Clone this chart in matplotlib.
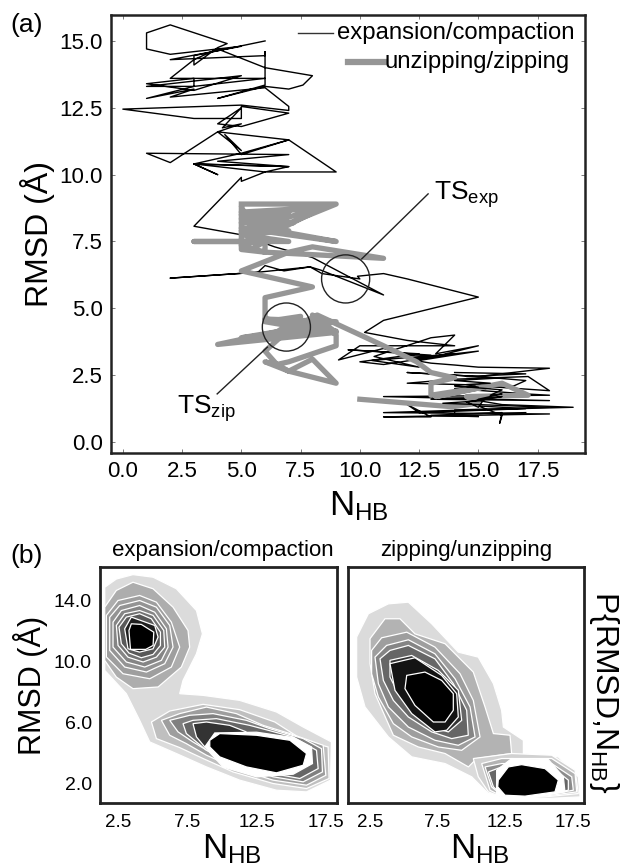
import matplotlib
matplotlib.use('Agg')
import matplotlib.pyplot as plt
from matplotlib.patches import Ellipse, Polygon

plt.rcParams['font.family'] = ['Liberation Sans', 'DejaVu Sans']
plt.rcParams['mathtext.default'] = 'regular'

# panel (a) trajectories, (N_HB, RMSD)
expansion = [
    (6, 15.0), (3, 14.45), (3, 14.1), (4, 14.75), (4.4, 14.9), (2, 15.6), (1, 15.3), (1, 14.7), (2, 14.5),
    (5, 14.8), (2, 14.3), (6, 14.45), (6, 14.6), (6, 13.35), (4, 12.85), (6, 13.3), (7, 13.2), (7.6, 13.35),
    (8, 13.7), (6, 14.0), (4, 14.7), (3, 14.3), (2, 13.6), (6, 13.6), (3, 13.3), (1, 13.3), (5, 13.7), (3, 13.15),
    (1, 13.4), (3, 13.6), (3, 13.3), (1, 12.85), (3, 13.2), (2, 12.9), (6, 13.25), (7, 12.55), (7, 12.4), (5, 12.6),
    (0, 12.45), (3, 12.1), (5, 12.1), (5, 12.55), (7, 12.3), (5, 11.8), (4, 11.9), (5, 12.5), (4.2, 11.75), (5, 11.9),
    (4, 11.6), (7, 11.3), (9, 10.1), (6, 10.1), (7, 10.3), (3, 10.4), (5, 10.8), (7, 11.3), (5, 10.75), (4.3, 11.5),
    (5, 10.9), (4, 11.6), (2, 10.45), (1, 10.8), (7, 10.75), (4, 10.5), (7, 10.3), (3, 10.4), (4, 10.0), (3, 10.4),
    (6, 10.1), (5, 9.75), (5, 9.9), (3, 8.07), (5, 7.75), (6.4, 7.3), (8, 6.9), (11, 5.5), (8.35, 6.43), (7.9, 6.55),
    (5.7, 6.35), (2, 6.13), (5.7, 6.35), (6, 6.6), (6.8, 6.4), (7.9, 6.55), (8.4, 6.3), (10, 6.1), (9.9, 6.2),
    (11, 6.3), (12, 6.1), (15, 5.42), (11, 4.55), (10.2, 4.1), (12, 3.8), (14, 3.6), (10, 3.6), (9.1, 3.07), (11, 3.5),
    (12, 3.25), (13, 3.25), (9.5, 3.45), (12.5, 3.3), (10, 3.0), (11, 2.9), (14, 3.3), (10.5, 3.05), (12.5, 2.8),
    (10.6, 3.2), (13, 3.9), (14, 4.0), (13.2, 3.3), (15, 3.6), (12.5, 3.05), (15, 3.4), (12, 3.1), (13, 2.95),
    (14, 2.88), (15, 2.8), (18, 2.76), (15, 2.45), (12, 2.6), (15, 2.45), (17, 2.3), (16.5, 2.1), (12, 2.2), (14, 2.35),
    (17.1, 2.45), (18, 1.92), (15, 2.1), (14, 2.0), (17, 1.8), (18, 1.75), (11, 1.7), (18, 1.55), (13, 1.6),
    (16, 1.7), (15, 1.55), (16, 1.4), (19, 1.3), (14.5, 1.2), (11, 1.1), (18, 1.05), (11, 0.94), (13, 0.94), (12, 1.4),
    (12.5, 1.1), (17, 1.25), (15, 1.35), (16, 1.0), (15.9, 0.7), (16, 1.1), (13, 1.0), (15, 0.95),
]
# part of the expansion run that lies on top of the grey line
expansion_front = [
    (14, 2.6), (17, 2.55), (14.5, 2.45), (16, 2.4), (14, 2.3), (15.5, 2.2), (14.5, 2.15), (15, 2.05), (14, 2.1),
    (16, 1.95), (15.5, 1.75), (16, 1.8), (15, 1.6), (16, 1.7), (14.5, 1.5), (15, 1.3), (15.2, 1.55), (13.5, 1.45),
    (18, 1.3), (14, 1.2), (14, 1.05), (17, 1.1),
]
unzipping = [
    (5, 8.9), (9, 8.9), (6.5, 8.0), (5, 8.5), (8, 8.75), (5, 8.6), (7, 8.45), (5, 8.35), (7.2, 8.2), (5, 8.2),
    (7, 8.6), (5, 7.9), (8.5, 8.8), (6.5, 7.9), (9, 7.5), (5, 8.0), (7, 7.9), (5, 7.75), (7, 7.5), (3, 7.5),
    (5, 7.5), (6, 7.6), (5, 7.35), (6, 7.1), (5, 7.2), (5, 8.8), (5.4, 8.1), (5.6, 7.3), (6, 7.5), (6, 7.1),
    (11, 6.87), (8, 7.3), (7, 7.1), (5, 6.4), (8, 5.8), (6, 5.4), (6, 4.6), (9, 4.5),
    (5, 3.9), (8, 4.2), (6, 4.5), (7.5, 4.7), (6.3, 4.0), (9, 4.15), (6, 4.6), (8, 4.4), (4, 3.65), (9, 4.1),
    (8, 4.75), (9, 4.0), (9, 3.6), (7, 3.0), (6.5, 2.9), (6, 3.0), (7, 2.65), (8, 3.1), (9, 2.2), (7, 2.65),
    (6.5, 2.9), (6, 3.4), (7, 4.2), (8.2, 4.75), (11, 3.6), (12.4, 3.0), (13, 2.6), (14, 2.4), (13, 2.2), (13, 1.75),
    (15.5, 2.1), (13.2, 1.7), (16, 2.2), (17.1, 1.75), (14.5, 1.7), (15, 1.45), (13.9, 1.32), (10, 1.6),
]

# panel (b) contour outlines, outermost first
left_shapes = [
    [(1.54, 14.87), (2.38, 15.41), (3.58, 15.7), (5.03, 15.53), (6.71, 14.77), (8.16, 13.34), (8.59, 11.81),
     (8.16, 10.5), (7.19, 8.75), (6.95, 7.88), (8.64, 7.77), (11.28, 7.44), (13.93, 6.68), (15.86, 5.69),
     (17.9, 4.71), (17.83, 2.2), (16.1, 1.43), (13.93, 1.54), (11.28, 2.2), (8.88, 3.07), (6.71, 3.95),
     (4.79, 4.71), (4.06, 6.13), (3.1, 7.88), (1.54, 9.41)],
    [(1.54, 13.56), (2.38, 14.66), (3.58, 15.2), (5.03, 14.77), (6.47, 13.56), (7.55, 12.03), (7.67, 10.94),
     (7.07, 9.63), (5.39, 8.32), (3.58, 8.21), (2.38, 8.97), (1.54, 10.07)],
    [(1.66, 13.02), (2.5, 14.0), (4.06, 14.33), (5.27, 13.89), (6.35, 12.58), (6.95, 10.94), (6.35, 9.63),
     (4.79, 8.86), (2.86, 9.19), (1.66, 10.29)],
    [(1.9, 12.9), (2.62, 13.67), (4.06, 14.0), (5.27, 13.56), (6.23, 12.36), (6.47, 10.94), (5.87, 9.85),
     (4.55, 9.3), (2.98, 9.63), (1.9, 10.72)],
    [(2.14, 12.58), (2.74, 13.34), (4.06, 13.67), (5.15, 13.23), (5.99, 12.14), (6.11, 10.94), (5.63, 10.07),
     (4.43, 9.63), (3.1, 9.96), (2.14, 10.94)],
    [(2.38, 12.36), (2.98, 13.13), (4.06, 13.34), (5.03, 13.02), (5.8, 12.03), (5.87, 10.94), (5.27, 10.28),
     (4.31, 9.96), (3.22, 10.28), (2.5, 11.05)],
    [(2.57, 12.25), (3.1, 12.91), (4.06, 13.13), (4.9, 12.8), (5.56, 11.92), (5.56, 11.05), (5.03, 10.46),
     (4.18, 10.24), (3.29, 10.55), (2.74, 11.16)],
    [(2.98, 12.14), (3.46, 12.91), (5.15, 12.36), (5.39, 11.6), (5.03, 10.83), (4.06, 10.61), (3.22, 10.83)],
    [(3.29, 12.03), (3.46, 12.47), (4.18, 12.43), (5.08, 11.92), (5.03, 11.05), (4.5, 10.79), (3.4, 10.79)],
    [(4.91, 6.02), (6.23, 6.74), (8.64, 7.18), (11.28, 6.83), (13.81, 6.02), (15.86, 4.82), (17.66, 4.38),
     (17.73, 2.31), (16.1, 1.65), (13.69, 1.98), (10.8, 2.74), (8.64, 3.62), (6.95, 4.34), (5.27, 4.93)],
    [(5.63, 6.13), (6.95, 6.57), (8.88, 7.0), (11.04, 6.57), (12.97, 5.8), (14.9, 5.26), (17.3, 4.49),
     (17.49, 2.52), (16.1, 1.87), (13.69, 2.2), (11.04, 2.96), (8.88, 3.84), (7.43, 4.6), (6.23, 5.15)],
    [(6.23, 6.13), (7.67, 6.46), (9.36, 6.57), (11.76, 6.13), (13.45, 5.58), (15.86, 4.93), (17.18, 4.27),
     (17.25, 2.74), (15.86, 2.09), (13.69, 2.42), (11.28, 3.18), (9.12, 4.05), (7.91, 4.71), (6.83, 5.37)],
    [(7.19, 5.91), (7.91, 6.13), (9.6, 6.24), (12.0, 5.8), (15.12, 5.04), (16.82, 4.16), (16.94, 2.96),
     (15.62, 2.31), (13.69, 2.63), (11.28, 3.29), (8.88, 4.16), (8.16, 4.71), (7.43, 5.26)],
    [(7.91, 5.91), (8.88, 6.02), (10.56, 5.8), (11.76, 5.37), (9.36, 4.38), (8.76, 4.38), (8.16, 5.04)],
    [(8.76, 4.38), (9.48, 5.3), (12.49, 5.35), (15.14, 5.0), (16.46, 4.38), (16.53, 3.29), (15.14, 2.59),
     (12.49, 2.42), (10.08, 3.07)],
    [(9.12, 4.82), (9.84, 5.26), (12.49, 5.15), (14.9, 4.82), (16.1, 3.95), (15.86, 3.18), (13.93, 2.68),
     (11.76, 3.07), (9.84, 3.73), (9.12, 4.38)],
]
left_grays = ['0.86', '0.68', '0.62', '0.58', '0.52', '0.45', '0.35', '0.12', '0',
              '0.75', '0.62', '0.5', '0.4', '0.2', '1', '0']

right_shapes = [
    [(1.51, 11.6), (2.38, 13.13), (3.86, 13.78), (5.34, 13.89), (7.07, 12.47), (9.04, 10.61), (10.52, 10.28),
     (11.64, 8.54), (12.25, 6.79), (12.38, 5.69), (13.86, 4.82), (13.86, 3.95), (16.45, 3.73), (17.93, 2.42),
     (18.06, 1.1), (15.46, 0.99), (11.27, 1.32), (10.03, 2.42), (8.06, 3.29), (5.59, 3.73), (3.86, 5.04),
     (2.13, 7.01), (1.51, 8.97)],
    [(2.5, 11.49), (3.61, 12.8), (4.72, 12.8), (5.83, 11.81), (8.06, 11.16), (10.15, 9.3), (11.02, 7.01),
     (11.64, 5.26), (12.87, 5.15), (12.99, 3.95), (10.4, 3.62), (9.79, 3.07), (8.06, 3.95), (6.08, 4.38),
     (4.23, 5.15), (2.87, 7.88), (2.5, 9.85)],
    [(2.62, 10.72), (3.36, 11.55), (5.22, 11.92), (7.31, 10.94), (9.17, 9.19), (10.15, 7.44), (10.65, 5.04),
     (9.29, 4.16), (7.56, 4.38), (5.59, 5.04), (4.23, 5.91), (3.12, 7.66), (2.62, 9.19)],
    [(2.87, 10.28), (3.73, 11.05), (5.34, 11.42), (7.31, 10.5), (8.8, 8.86), (9.91, 7.01), (10.28, 5.04),
     (9.04, 4.49), (7.31, 4.82), (5.34, 5.69), (3.86, 7.01), (3.12, 8.54)],
    [(3.24, 10.17), (3.98, 10.72), (5.34, 11.05), (7.31, 10.17), (8.67, 8.54), (9.66, 6.79), (9.78, 5.15),
     (8.55, 4.93), (7.07, 5.37), (5.34, 6.35), (4.23, 7.44), (3.49, 8.75)],
    [(3.98, 10.07), (5.59, 10.39), (7.56, 9.41), (9.04, 8.1), (9.29, 6.13), (8.3, 5.37), (7.07, 5.69),
     (5.59, 6.79), (4.6, 7.88), (3.98, 8.97)],
    [(3.98, 9.85), (5.83, 10.24), (7.81, 9.08), (8.92, 7.88), (9.04, 6.35), (8.18, 5.48), (7.31, 5.37),
     (5.59, 6.57), (4.35, 8.1)],
    [(5.22, 9.08), (6.57, 9.3), (7.81, 8.75), (8.67, 7.88), (8.67, 6.79), (8.06, 6.02), (7.19, 6.02),
     (5.83, 7.11), (5.09, 8.21)],
    [(10.15, 3.62), (12.99, 3.95), (15.96, 3.84), (17.69, 2.85), (17.93, 1.32), (15.46, 1.1), (12.25, 1.1),
     (11.27, 1.43), (10.52, 2.42)],
    [(10.77, 3.29), (12.25, 3.62), (15.96, 3.62), (17.69, 2.63), (17.81, 1.43), (15.46, 1.15), (12.25, 1.15),
     (11.39, 1.54)],
    [(11.02, 3.07), (12.25, 3.29), (15.96, 3.29), (17.44, 2.42), (17.56, 1.54), (15.46, 1.21), (12.25, 1.21),
     (11.51, 1.76)],
    [(11.27, 2.74), (12.25, 3.07), (15.96, 3.07), (17.19, 2.2), (17.19, 1.54), (15.46, 1.26), (12.25, 1.26),
     (11.64, 1.76)],
    [(11.88, 2.85), (12.99, 3.62), (15.71, 3.55), (16.82, 2.42), (16.94, 1.43), (13.98, 0.99), (11.88, 1.21)],
    [(12, 2.2), (12.75, 3.07), (13.73, 3.22), (15.46, 2.96), (16.45, 2.2), (16.2, 1.43), (13.98, 1.15),
     (12.5, 1.21), (11.96, 1.76)],
]
right_grays = ['0.86', '0.7', '0.62', '0.52', '0.4', '0.2', '0.08', '0',
               '0.82', '0.7', '0.55', '0.4', '1', '0']

a_xticks = [0.0, 2.5, 5.0, 7.5, 10.0, 12.5, 15.0, 17.5]
a_yticks = [0.0, 2.5, 5.0, 7.5, 10.0, 12.5, 15.0]
b_xticks = [2.5, 7.5, 12.5, 17.5]
b_yticks = [2.0, 6.0, 10.0, 14.0]


def make_axes(fig, left, top, right, bottom):
    return fig.add_axes([left / 626, 1 - bottom / 868, (right - left) / 626, (bottom - top) / 868])


def draw_contours(ax, shapes, grays):
    for pts, g in zip(shapes, grays):
        ax.add_patch(Polygon(pts, closed=True, facecolor=g, edgecolor='white', linewidth=0.9, zorder=2))


def main():
    fig = plt.figure(figsize=(6.26, 8.68), dpi=100)

    ax = make_axes(fig, 111, 15, 585, 453)
    ax.plot(*zip(*expansion), color='black', lw=1.0, zorder=2)
    ax.plot(*zip(*unzipping), color='#969696', lw=3.8, solid_joinstyle='round', zorder=3)
    ax.plot(*zip(*expansion_front), color='black', lw=1.0, zorder=3.5)
    ax.set_xlim(-0.5, 19.5)
    ax.set_ylim(-0.41, 15.97)
    ax.set_xticks(a_xticks)
    ax.set_yticks(a_yticks)
    ax.set_xticklabels(['%.1f' % v for v in a_xticks])
    ax.set_yticklabels(['%.1f' % v for v in a_yticks])
    ax.tick_params(direction='in', length=3, width=0.6, color='0.4', top=True, right=True, labelsize=16, pad=6)
    ax.set_xlabel(r'N$_{HB}$', fontsize=25, labelpad=5, x=0.523)
    ax.set_ylabel('RMSD (Å)', fontsize=23, labelpad=3)
    for s in ax.spines.values():
        s.set_linewidth(1.8)
        s.set_color('#222222')

    # legend, hand placed like the original
    ax.plot([0.395, 0.468], [0.96, 0.96], transform=ax.transAxes, color='#333333', lw=1.0)
    ax.text(0.477, 0.958, 'expansion/compaction', transform=ax.transAxes, fontsize=17.2, va='center')
    ax.plot([0.5, 0.578], [0.893, 0.893], transform=ax.transAxes, color='#969696', lw=4.5)
    ax.text(0.578, 0.893, 'unzipping/zipping', transform=ax.transAxes, fontsize=17.2, va='center')

    ax.add_patch(Ellipse((9.4, 6.1), 2.03, 1.8, fill=False, ec='#222222', lw=1.0, zorder=4))
    ax.add_patch(Ellipse((6.9, 4.3), 2.03, 1.8, fill=False, ec='#222222', lw=1.0, zorder=4))
    ax.plot([10.08, 12.88], [6.85, 9.28], color='#222222', lw=1.0, zorder=4)
    ax.plot([6.1, 3.98], [3.55, 1.8], color='#222222', lw=1.0, zorder=4)
    ax.text(13.14, 9.05, r'TS$_{exp}$', fontsize=19, va='baseline')
    ax.text(2.29, 1.05, r'TS$_{zip}$', fontsize=19, va='baseline')

    ax1 = make_axes(fig, 100, 567, 337, 803)
    draw_contours(ax1, left_shapes, left_grays)
    ax1.set_xlim(1.2, 18.3)
    ax1.set_ylim(0.7, 16.2)
    ax1.set_yticks(b_yticks)
    ax1.set_yticklabels(['%.1f' % v for v in b_yticks])
    ax1.tick_params(axis='y', labelsize=14)
    ax1.set_ylabel('RMSD (Å)', fontsize=22, labelpad=4)
    ax1.set_title('expansion/compaction', fontsize=16, pad=8, x=0.52)

    ax2 = make_axes(fig, 348, 567, 584, 803)
    draw_contours(ax2, right_shapes, right_grays)
    ax2.set_xlim(0.87, 18.35)
    ax2.set_ylim(0.7, 16.2)
    ax2.set_yticks([])
    ax2.set_title('zipping/unzipping', fontsize=16, pad=8)

    for a, xpos in ((ax1, 0.557), (ax2, 0.559)):
        a.set_xticks(b_xticks)
        a.set_xticklabels(['%.1f' % v for v in b_xticks])
        a.tick_params(length=0, pad=6)
        a.tick_params(axis='x', labelsize=13.5, pad=8)
        a.set_xlabel(r'N$_{HB}$', fontsize=25, labelpad=1, x=xpos)
        for s in a.spines.values():
            s.set_linewidth(2.0)
            s.set_color('#222222')

    fig.text(604 / 626, 1 - 692 / 868, r'P{RMSD,N$_{HB}$}', rotation=270, fontsize=23, ha='center', va='center')
    fig.text(10 / 626, 1 - 25 / 868, '(a)', fontsize=19, va='center')
    fig.text(10 / 626, 1 - 556 / 868, '(b)', fontsize=19, va='center')

    fig.savefig('out.png', dpi=100)


if __name__ == '__main__':
    main()
